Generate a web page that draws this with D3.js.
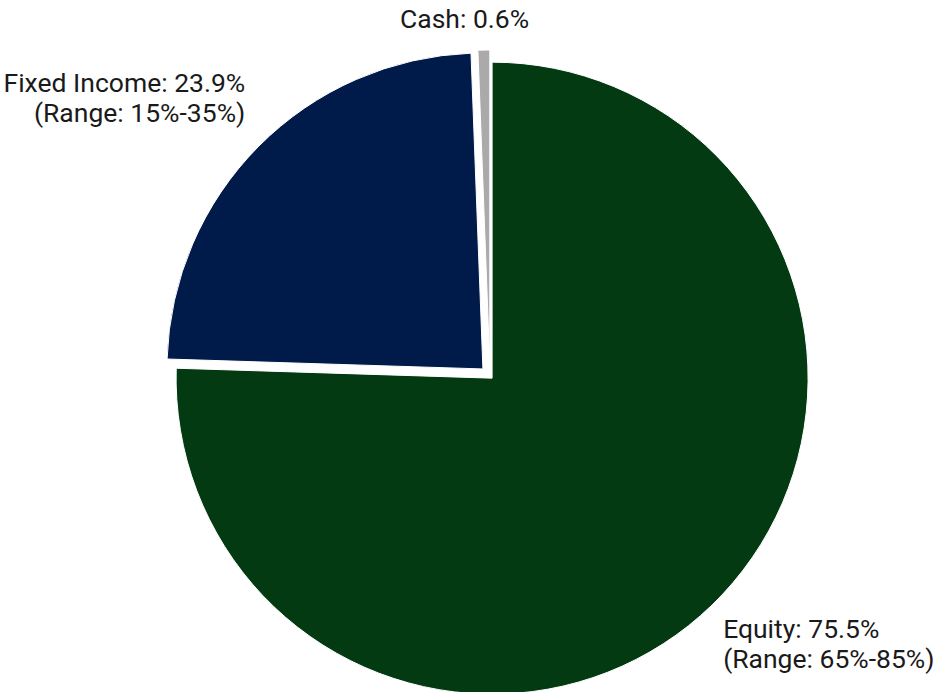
<html>
<head>
<style>
  body { margin: 0; background: #fff; }
  text { font-family: Roboto, "Noto Sans", sans-serif; fill: #1a1a1a; }
</style>
</head>
<body>
<script src="https://cdn.jsdelivr.net/npm/d3@7/dist/d3.min.js"></script>
<svg id="chart" width="934" height="692"></svg>
<script>
  // values
  const categories = ["Equity", "Fixed Income", "Cash"];
  const weights = [75.5, 23.9, 0.6];
  const ranges = ["(Range: 65%-85%)", "(Range: 15%-35%)", null];
  const colors = ["#033a12", "#001b4a", "#aaaaaa"];

  const cx = 490, cy = 376, radius = 316;
  // how far each slice is pulled out, and label nudges
  const explode = [3, 10, 10];
  const labelStyle = [
    {r: 335, anchor: "start", dx: 0, dy: 21},
    {r: 345, anchor: "end", dx: 0, dy: -41},
    {r: 340, anchor: "middle", dx: -19, dy: -8}
  ];

  const data = categories.map((c, i) => ({name: c, value: weights[i], range: ranges[i], i: i}));

  const svg = d3.select("#chart");
  const g = svg.append("g").attr("transform", `translate(${cx},${cy})`);

  const pie = d3.pie().sort(null).value(d => d.value);
  const arc = d3.arc().innerRadius(0).outerRadius(radius);
  const arcs = pie(data);

  g.selectAll("path")
    .data(arcs)
    .enter()
    .append("path")
    .attr("d", arc)
    .attr("fill", d => colors[d.data.i])
    .attr("stroke", "#fff")
    .attr("stroke-width", 1)
    .attr("transform", d => {
      let a = (d.startAngle + d.endAngle) / 2;
      let e = explode[d.data.i];
      return `translate(${e * Math.sin(a)},${-e * Math.cos(a)})`;
    });

  let labels = g.selectAll("text.lbl")
    .data(arcs)
    .enter()
    .append("text")
    .attr("class", "lbl")
    .style("font-size", "26.5px")
    .attr("text-anchor", d => labelStyle[d.data.i].anchor)
    .attr("transform", d => {
      let a = (d.startAngle + d.endAngle) / 2;
      let s = labelStyle[d.data.i];
      return `translate(${s.r * Math.sin(a) + s.dx},${-s.r * Math.cos(a) + s.dy})`;
    });

  labels.append("tspan")
    .attr("x", 0)
    .text(d => d.data.name + ": " + d.data.value.toFixed(1) + "%");

  labels.filter(d => d.data.range)
    .append("tspan")
    .attr("x", 0)
    .attr("dy", 30.5)
    .text(d => d.data.range);
</script>
</body>
</html>
